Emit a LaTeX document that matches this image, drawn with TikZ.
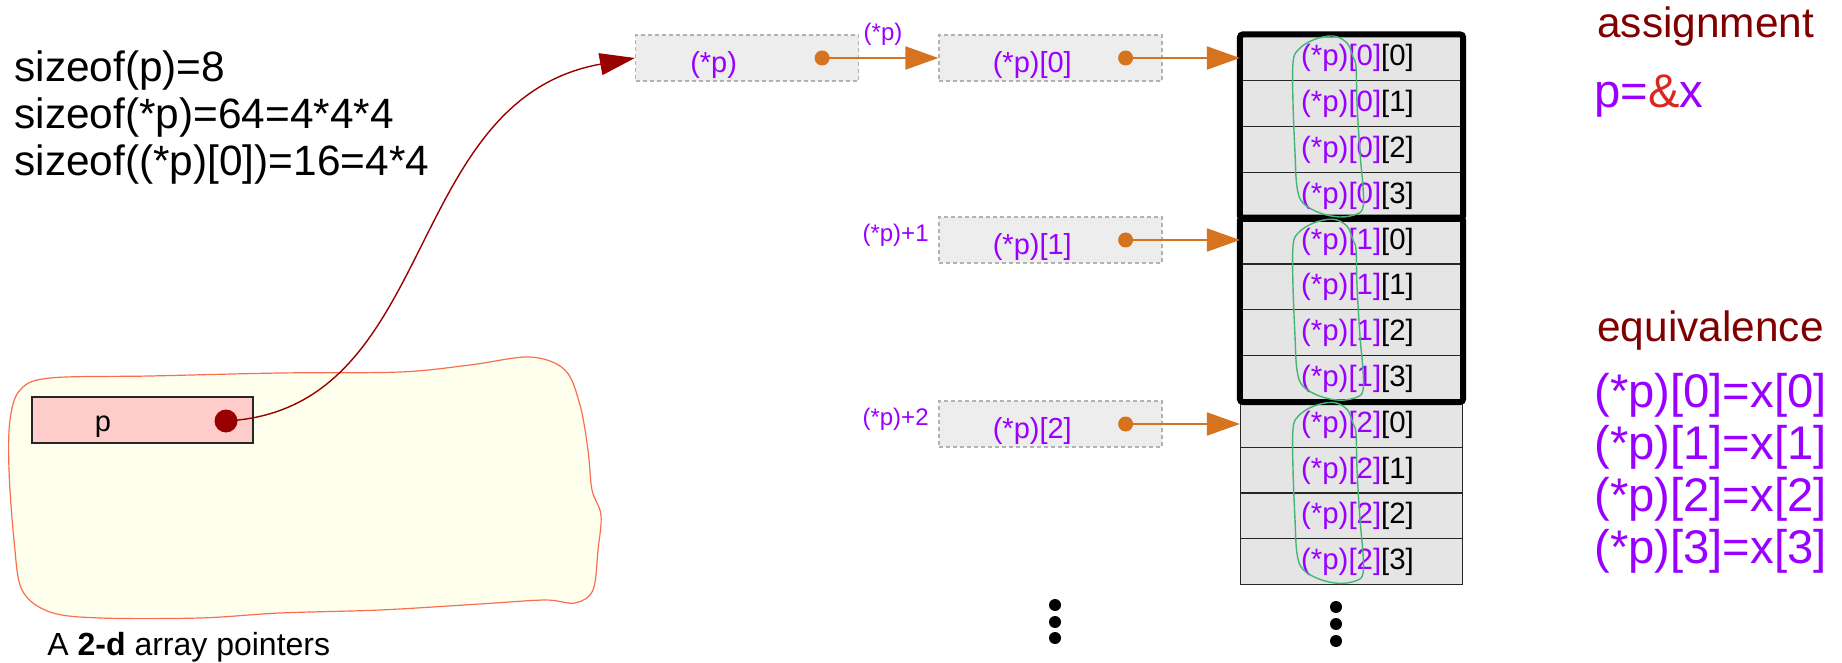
\documentclass[tikz,border=0pt]{standalone}
\usepackage{fontspec}
\setmainfont{Liberation Sans}
\usepackage{xcolor}
\usetikzlibrary{arrows.meta, calc}

\definecolor{ptrviolet}{RGB}{153,0,255}
\definecolor{addrred}{RGB}{218,40,30}
\definecolor{headred}{RGB}{128,0,0}
\definecolor{linkred}{RGB}{153,0,0}
\definecolor{linkorange}{RGB}{214,115,30}
\definecolor{loopgreen}{RGB}{70,180,120}
\definecolor{memfill}{RGB}{255,255,238}
\definecolor{memline}{RGB}{250,110,80}
\definecolor{pfill}{RGB}{255,204,204}

\begin{document}
\begin{tikzpicture}[x=0.5pt, y=-0.5pt,
    cell/.style={draw=black!85, line width=0.6pt, fill=black!10, minimum width=111pt,
      minimum height=22.9pt, inner sep=0pt, text height=1em, text depth=0.2em,
      font=\fontsize{14.7}{16}\selectfont},
    ptrbox/.style={draw=black!30, line width=0.6pt, dash pattern=on 2pt off 1.5pt,
      fill=black!7, minimum width=111.5pt, minimum height=23pt, inner sep=0pt},
    pbox/.style={draw=black!85, line width=0.6pt, fill=pfill, minimum width=110.5pt,
      minimum height=23pt, inner sep=0pt},
    boxtext/.style={ptrviolet, font=\fontsize{14.5}{16}\selectfont, inner sep=0pt},
    smalltext/.style={ptrviolet, font=\fontsize{12}{14}\selectfont, inner sep=0pt},
    bigtext/.style={font=\fontsize{21.2}{24}\selectfont, inner sep=0pt},
    headtext/.style={headred, font=\fontsize{21.2}{24}\selectfont, inner sep=0pt},
    eqtext/.style={ptrviolet, font=\fontsize{23.6}{26}\selectfont, inner sep=0pt},
    odot/.style={circle, fill=linkorange, minimum size=7.5pt, inner sep=0pt},
    rdot/.style={circle, fill=linkred, minimum size=11.5pt, inner sep=0pt},
    oarrow/.style={linkorange, line width=1pt, -{Triangle[length=16.5pt, width=11.5pt]}},
    rarrow/.style={linkred, line width=0.7pt, -{Triangle[length=17.5pt, width=11pt]}}]
  \useasboundingbox (0,0) rectangle (1842,663);

  % Memory area of p
  \filldraw[memline, fill=memfill, line width=0.6pt] plot[smooth cycle, tension=0.55]
    coordinates {(10,420) (20,390) (50,378) (150,376) (280,373) (400,372) (470,365)
      (530,357) (565,370) (580,405) (588,450) (592,490) (601,515) (598,550) (593,590)
      (575,603) (545,600) (480,604) (380,610) (280,613) (200,618) (100,618) (50,612)
      (22,590) (14,540) (9,470)};

  % Pointer variable p
  \node[pbox] (pvar) at (142.5,420) {};
  \node[boxtext, black] (ptxt) at (103,427) {p};
  \node[rdot] (pdot) at (226,421) {};

  % Sizes
  \node[bigtext, anchor=base west] (size1) at (14,82) {sizeof(p)=8};
  \node[bigtext, anchor=base west] (size2) at (14,129) {sizeof(*p)=64=4*4*4};
  \node[bigtext, anchor=base west] (size3) at (14,176) {sizeof((*p)[0])=16=4*4};
  \node[font=\fontsize{16}{18}\selectfont, inner sep=0pt, anchor=base west] (caption)
    at (47,655) {A \textbf{2-d} array pointers};

  % Array cells x[i][j]
  \foreach \g in {0,1,2} {
    \foreach \j in {0,...,3} {
      \node[cell] (c\g\j) at (1351.5,{57.9+45.8*(4*\g+\j)})
        {\hspace*{6pt}\textcolor{ptrviolet}{(*p)[\g]}[\j]};
    }
  }
  \foreach \g in {0,1}
    \draw[line width=3pt, rounded corners=1.5pt] (c\g0.north west) rectangle (c\g3.south east);

  % Loops round each row
  \foreach \g in {0,1,2}
    \draw[loopgreen, line width=0.7pt, shift={(0,35+183.2*\g)}] plot[smooth cycle, tension=0.6]
      coordinates {(1333,1) (1313,5) (1298,15) (1293,28) (1293,68) (1295,118) (1297,152)
        (1303,168) (1320,178) (1340,182) (1357,179) (1363,172) (1363,152) (1360,118)
        (1357,68) (1356,32) (1353,22) (1347,8)};

  % Pointer boxes
  \node[ptrbox] (ptr) at (747,58) {};
  \node[boxtext, anchor=west] (ptrtxt) at ([xshift=27.5pt, yshift=-3.5pt]ptr.west) {(*p)};
  \node[odot] (ptrdot) at ([xshift=-18.5pt]ptr.east) {};
  \node[ptrbox] (row0) at (1050.5,58) {};
  \node[ptrbox] (row1) at (1050.5,240) {};
  \node[ptrbox] (row2) at (1050.5,424) {};
  \foreach \i in {0,1,2} {
    \node[boxtext, anchor=west] (rowtxt\i) at ([xshift=27pt, yshift=-3.5pt]row\i.west) {(*p)[\i]};
    \node[odot] (rowdot\i) at ([xshift=-18.5pt]row\i.east) {};
    \draw[oarrow] (rowdot\i.center) -- (rowdot\i.center -| c\i0.west);
  }
  \draw[oarrow] (ptrdot.center) -- (row0.west);
  \draw[rarrow] (pdot.center) .. controls (440,410) and (400,100) .. (ptr.west);

  % Labels
  \node[smalltext] (deref) at (883,34) {(*p)};
  \node[smalltext, anchor=east] (plus1) at (929,235) {(*p)+1};
  \node[smalltext, anchor=east] (plus2) at (929,419) {(*p)+2};

  % More rows
  \foreach \y in {605,622,638} \fill (1055,\y) circle (3pt);
  \foreach \y in {607,624,641} \fill (1336,\y) circle (3pt);

  % Assignment and equivalence
  \node[headtext, anchor=base west] (assign) at (1597,38) {assignment};
  \node[eqtext, anchor=base west] (pax) at (1594,108) {p=\textcolor{addrred}{\&}x};
  \node[headtext, anchor=base west] (equiv) at (1597,342) {equivalence};
  \foreach \i in {0,...,3}
    \node[eqtext, anchor=base west] (eq\i) at (1594,{408+51.7*\i}) {(*p)[\i]=x[\i]};
\end{tikzpicture}
\end{document}
